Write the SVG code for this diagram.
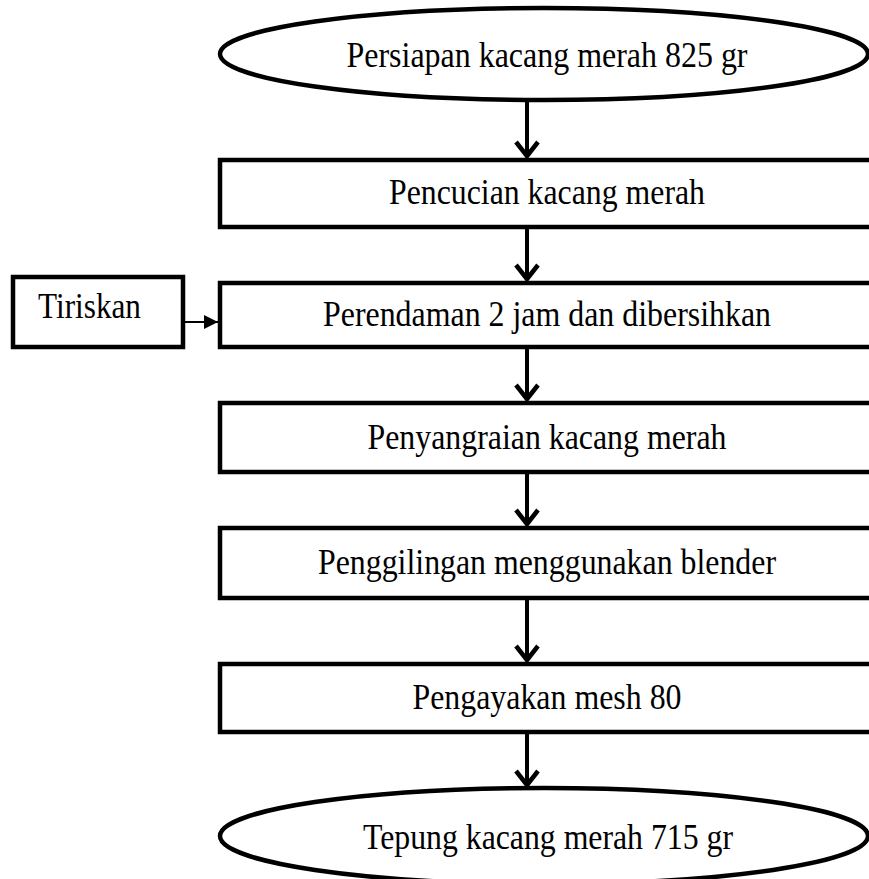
<svg xmlns="http://www.w3.org/2000/svg" width="869" height="879" viewBox="0 0 869 879">
<defs>
<style>
.shape{fill:#fff;stroke:#000;stroke-width:4.5}
.lbl{font-family:"Liberation Serif","Times New Roman",serif;font-size:36px;fill:#000;text-anchor:middle}
.flow{stroke:#000;stroke-width:4;fill:none}
.side{stroke:#000;stroke-width:2;fill:none}
</style>
<marker id="chev" markerUnits="userSpaceOnUse" viewBox="-20 -16 24 32" refX="0" refY="0" markerWidth="24" markerHeight="32" orient="auto" overflow="visible">
<path d="M-15,-11 L-1,0 L-15,11" fill="none" stroke="#000" stroke-width="4.5" stroke-linejoin="miter"/>
</marker>
<marker id="tri" markerUnits="userSpaceOnUse" viewBox="-15 -8 16 16" refX="0" refY="0" markerWidth="16" markerHeight="16" orient="auto" overflow="visible">
<path d="M-14,-7 L0,0 L-14,7 Z" fill="#000"/>
</marker>
</defs>
<rect width="869" height="879" fill="#fff"/>
<g id="connectors">
<line class="flow" x1="527" y1="100" x2="527" y2="157" marker-end="url(#chev)"/>
<line class="flow" x1="527" y1="227" x2="527" y2="280" marker-end="url(#chev)"/>
<line class="flow" x1="527" y1="347" x2="527" y2="400" marker-end="url(#chev)"/>
<line class="flow" x1="527" y1="472" x2="527" y2="525" marker-end="url(#chev)"/>
<line class="flow" x1="527" y1="598" x2="527" y2="661" marker-end="url(#chev)"/>
<line class="flow" x1="527" y1="732" x2="527" y2="786" marker-end="url(#chev)"/>
<line class="side" x1="183" y1="322" x2="218" y2="322" marker-end="url(#tri)"/>
</g>
<g id="start">
<ellipse class="shape" cx="544" cy="54" rx="324" ry="46"/>
<text class="lbl" x="547" y="67" textLength="401" lengthAdjust="spacingAndGlyphs">Persiapan kacang merah 825 gr</text>
</g>
<g id="pencucian">
<rect class="shape" x="220" y="160" width="680" height="67"/>
<text class="lbl" x="547" y="204" textLength="316" lengthAdjust="spacingAndGlyphs">Pencucian kacang merah</text>
</g>
<g id="tiriskan">
<rect class="shape" x="13" y="277" width="170" height="70"/>
<text class="lbl" x="38" y="318" style="text-anchor:start" textLength="103" lengthAdjust="spacingAndGlyphs">Tiriskan</text>
</g>
<g id="perendaman">
<rect class="shape" x="220" y="283" width="680" height="64"/>
<text class="lbl" x="547" y="326" textLength="448" lengthAdjust="spacingAndGlyphs">Perendaman 2 jam dan dibersihkan</text>
</g>
<g id="penyangraian">
<rect class="shape" x="220" y="403" width="680" height="69"/>
<text class="lbl" x="547" y="449" textLength="359" lengthAdjust="spacingAndGlyphs">Penyangraian kacang merah</text>
</g>
<g id="penggilingan">
<rect class="shape" x="220" y="528" width="680" height="70"/>
<text class="lbl" x="547" y="574" textLength="458" lengthAdjust="spacingAndGlyphs">Penggilingan menggunakan blender</text>
</g>
<g id="pengayakan">
<rect class="shape" x="220" y="664" width="680" height="68"/>
<text class="lbl" x="547" y="709" textLength="269" lengthAdjust="spacingAndGlyphs">Pengayakan mesh 80</text>
</g>
<g id="end">
<ellipse class="shape" cx="544" cy="836" rx="324" ry="48"/>
<text class="lbl" x="548" y="849" textLength="370" lengthAdjust="spacingAndGlyphs">Tepung kacang merah 715 gr</text>
</g>
</svg>
